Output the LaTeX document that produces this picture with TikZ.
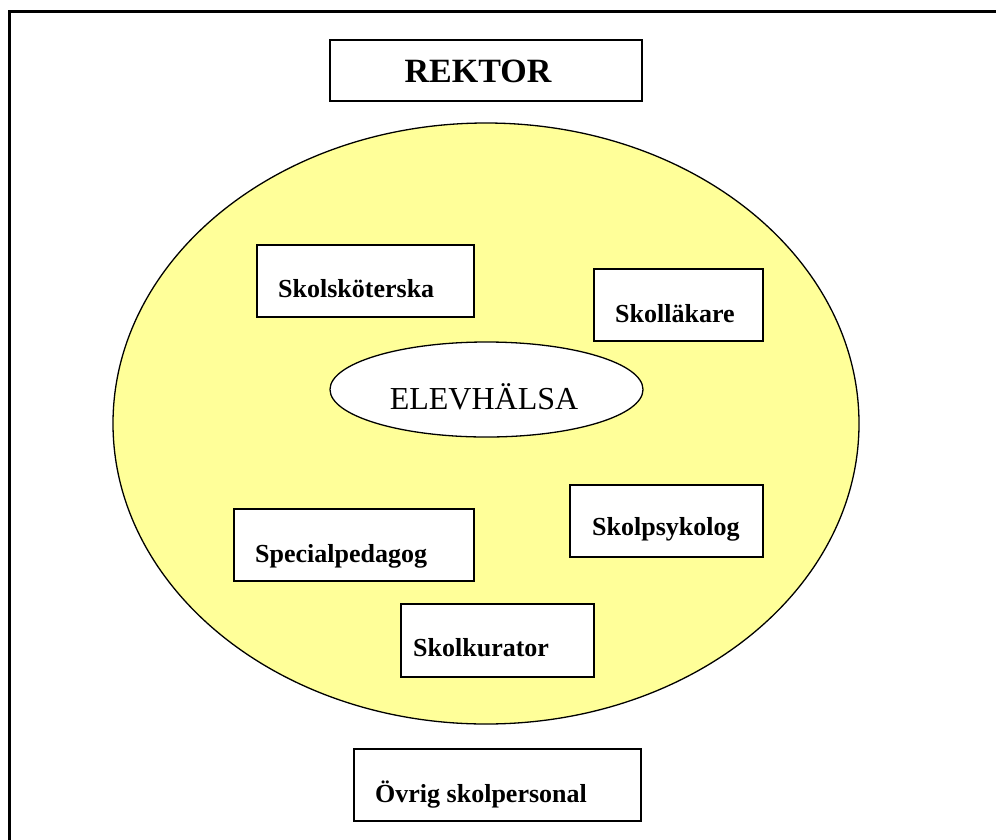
\documentclass[tikz,border=0pt]{standalone}
\usepackage{fontspec}
\setmainfont{Liberation Serif}
\usetikzlibrary{shapes.geometric}
\definecolor{paleyellow}{RGB}{255,255,153}
\tikzset{
  box/.style={draw=black, line width=1.6pt, fill=white, rectangle, inner sep=0pt},
  lbl/.style={anchor=base west, inner sep=0pt, font=\fontsize{26}{30}\selectfont\bfseries},
  frameline/.style={line width=3pt, line cap=rect}
}
\begin{document}
\begin{tikzpicture}[x=1pt,y=-1pt]
\useasboundingbox (0,0) rectangle (996,839);
% frame (top and left only)
\coordinate (ftl) at (9,11);
\coordinate (ftr) at (996,11);
\coordinate (fbl) at (9,839);
\draw[frameline] (ftr) -- (ftl) -- (fbl);
% big ellipse
\node[ellipse, draw=black, line width=1.3pt, fill=paleyellow, minimum width=746pt, minimum height=601pt, inner sep=0pt] (big) at (486,423.5) {};
% small ellipse
\node[ellipse, draw=black, line width=1.3pt, fill=white, minimum width=313pt, minimum height=95pt, inner sep=0pt] (elev) at (486.5,389.5) {};
\node[anchor=base, inner sep=0pt, font=\fontsize{32}{36}\selectfont] (elevtext) at (484,409) {ELEVHÄLSA};
% boxes
\node[box, minimum width=312pt, minimum height=61pt] (rektor) at (486,70.5) {};
\node[anchor=base, inner sep=0pt, font=\fontsize{34}{40}\selectfont\bfseries] (rektortext) at (478,82) {REKTOR};

\node[box, minimum width=217pt, minimum height=72pt] (skot) at (365.5,281) {};
\node[lbl] (skottext) at (278,297) {Skolsköterska};

\node[box, minimum width=169pt, minimum height=72pt] (lak) at (678.5,305) {};
\node[lbl] (laktext) at (615,322) {Skolläkare};

\node[box, minimum width=240pt, minimum height=72pt] (spec) at (354,545) {};
\node[lbl] (spectext) at (255,562) {Specialpedagog};

\node[box, minimum width=193pt, minimum height=72pt] (psyk) at (666.5,521) {};
\node[lbl] (psyktext) at (592,535) {Skolpsykolog};

\node[box, minimum width=193pt, minimum height=73pt] (kur) at (497.5,640.5) {};
\node[lbl] (kurtext) at (413,656) {Skolkurator};

\node[box, minimum width=287pt, minimum height=72pt] (ovr) at (497.5,785) {};
\node[lbl] (ovrtext) at (375,802) {Övrig skolpersonal};
\end{tikzpicture}
\end{document}
